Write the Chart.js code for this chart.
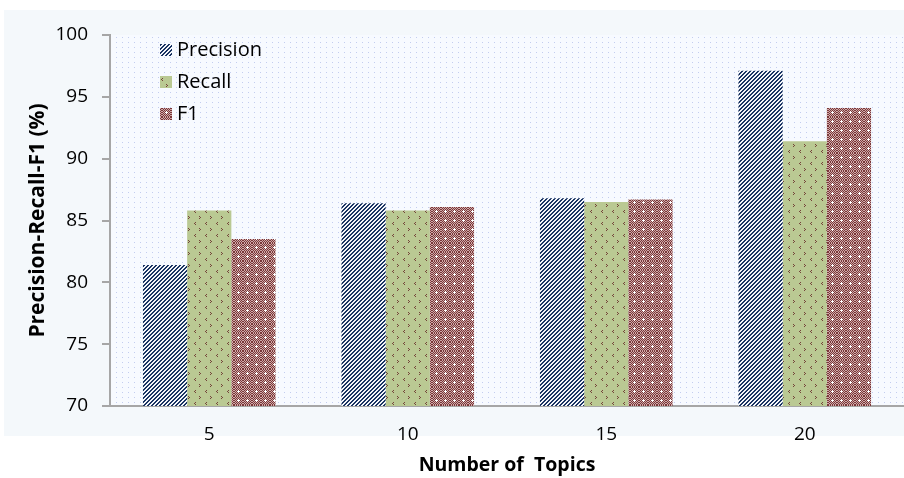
<!DOCTYPE html>
<html>
<head>
<meta charset="utf-8">
<script src="https://cdn.jsdelivr.net/npm/chart.js@4/dist/chart.umd.min.js"></script>
<style>
  html, body { margin: 0; padding: 0; background: #fff; }
  #wrap { width: 904px; height: 478px; }
</style>
</head>
<body>
<div id="wrap"><canvas id="chart" width="904" height="478"></canvas></div>
<script>
  "use strict";
  // data
  var topics = ['5', '10', '15', '20'];
  var precision = [81.4, 86.4, 86.8, 97.1];
  var recall = [85.8, 85.8, 86.5, 91.4];
  var f1 = [83.5, 86.1, 86.7, 94.1];
  var seriesNames = ['Precision', 'Recall', 'F1'];
  var yMin = 70, yMax = 100, yStep = 5;

  var FONT = '"Open Sans", "Liberation Sans", sans-serif';

  function makeTile(w, h, draw) {
    var c = document.createElement('canvas');
    c.width = w; c.height = h;
    var g = c.getContext('2d');
    draw(g, w, h);
    return c;
  }
  function px(g, color, pts) {
    g.fillStyle = color;
    pts.forEach(function (p) { g.fillRect(p[0], p[1], 1, 1); });
  }

  var ctx = document.getElementById('chart').getContext('2d');

  // navy diagonal stripes
  var stripeTile = makeTile(4, 4, function (g, w, h) {
    g.fillStyle = '#f4f6fa'; g.fillRect(0, 0, w, h);
    for (var y = 0; y < h; y++) {
      for (var x = 0; x < w; x++) {
        if ((x + y) % 4 < 2) px(g, '#1a3462', [[x, y]]);
      }
    }
  });
  // olive with small brown chevrons
  var recallTile = makeTile(11, 12, function (g, w, h) {
    g.fillStyle = '#bac993'; g.fillRect(0, 0, w, h);
    px(g, '#74453a', [[1, 0], [2, 1], [1, 2]]);
    px(g, '#74453a', [[8, 6], [7, 7], [8, 8]]);
  });
  // maroon checker with white crosses
  var f1Tile = makeTile(9, 9, function (g, w, h) {
    for (var y = 0; y < h; y++) {
      for (var x = 0; x < w; x++) {
        px(g, (x + y) % 2 === 0 ? '#7a3738' : '#cfaaaa', [[x, y]]);
      }
    }
    px(g, '#ffffff', [[4, 3], [3, 4], [4, 4], [5, 4], [4, 5]]);
  });
  // light dotted plot background
  var dotTile = makeTile(6, 5, function (g, w, h) {
    g.fillStyle = '#f7faff'; g.fillRect(0, 0, w, h);
    px(g, '#c3cdef', [[2, 2]]);
  });

  var fills = [
    ctx.createPattern(stripeTile, 'repeat'),
    ctx.createPattern(recallTile, 'repeat'),
    ctx.createPattern(f1Tile, 'repeat')
  ];
  var dotFill = ctx.createPattern(dotTile, 'repeat');

  var backgroundPlugin = {
    id: 'panelBackground',
    beforeDraw: function (chart) {
      var c = chart.ctx, a = chart.chartArea;
      c.save();
      c.fillStyle = '#ffffff';
      c.fillRect(0, 0, chart.width, chart.height);
      c.fillStyle = '#f4f8fb';
      c.fillRect(4, 10, chart.width - 4, 426);
      c.fillStyle = dotFill;
      c.fillRect(a.left, a.top, a.right - a.left, a.bottom - a.top);
      c.restore();
    }
  };

  var insideLegend = {
    id: 'insideLegend',
    afterDatasetsDraw: function (chart) {
      var c = chart.ctx;
      c.save();
      c.font = '20px ' + FONT;
      c.textBaseline = 'middle';
      chart.data.datasets.forEach(function (ds, i) {
        var y = 50 + i * 32;
        c.fillStyle = ds.backgroundColor;
        c.fillRect(160, y - 6, 12, 12);
        c.fillStyle = '#000';
        c.fillText(ds.label, 177, y);
      });
      c.restore();
    }
  };

  var seriesData = [precision, recall, f1];

  new Chart(ctx, {
    type: 'bar',
    data: {
      labels: topics,
      datasets: seriesNames.map(function (name, i) {
        return {
          label: name,
          data: seriesData[i],
          backgroundColor: fills[i],
          borderWidth: 0,
          categoryPercentage: 0.668,
          barPercentage: 1.0
        };
      })
    },
    options: {
      responsive: false,
      animation: false,
      devicePixelRatio: 1,
      layout: { padding: { top: 35, right: 0, bottom: 0, left: 0 } },
      plugins: {
        legend: { display: false },
        tooltip: { enabled: false }
      },
      scales: {
        x: {
          grid: { display: true, drawOnChartArea: false, drawTicks: false },
          border: { display: true, color: '#a6a6a6', width: 2 },
          ticks: { color: '#000', padding: 17, font: { family: FONT, size: 19 } },
          title: {
            display: true,
            text: 'Number of  Topics',
            color: '#000',
            font: { family: FONT, size: 19.5, weight: 'bold' },
            padding: { top: 0, bottom: 1 }
          },
          afterFit: function (scale) { scale.height = 72; }
        },
        y: {
          min: yMin,
          max: yMax,
          grid: { drawOnChartArea: false, drawTicks: true, tickLength: 8, color: '#a6a6a6', lineWidth: 2 },
          border: { display: true, color: '#a6a6a6', width: 2 },
          ticks: { stepSize: yStep, color: '#000', padding: 14, font: { family: FONT, size: 19 } },
          title: {
            display: true,
            text: 'Precision-Recall-F1 (%)',
            color: '#000',
            font: { family: FONT, size: 21, weight: 'bold' },
            padding: { top: 25, bottom: 0 }
          },
          afterFit: function (scale) { scale.width = 110; }
        }
      }
    },
    plugins: [backgroundPlugin, insideLegend]
  });
</script>
</body>
</html>
